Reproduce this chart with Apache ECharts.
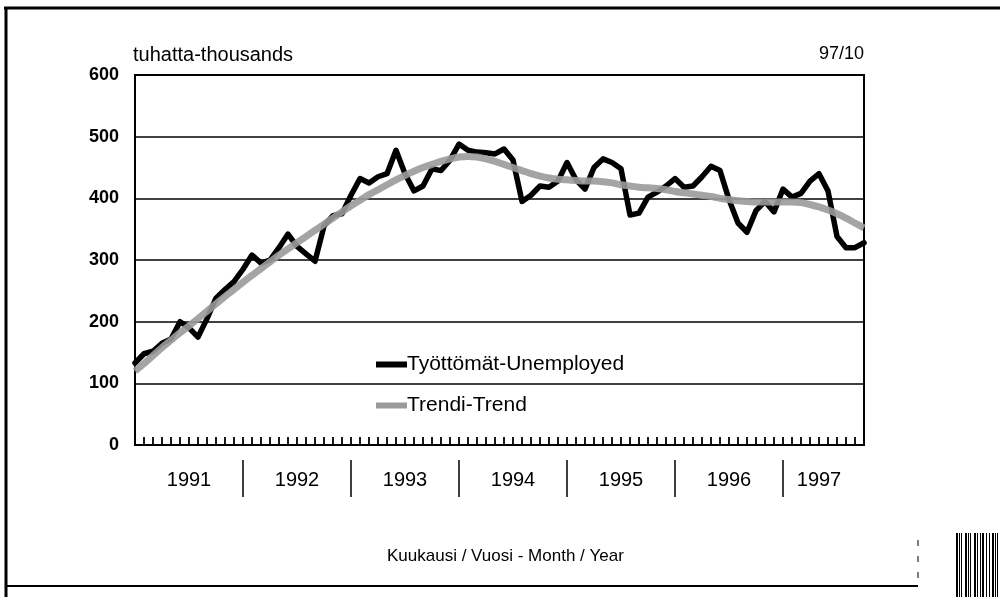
<!DOCTYPE html>
<html>
<head>
<meta charset="utf-8">
<script src="https://cdn.jsdelivr.net/npm/echarts@6/dist/echarts.min.js"></script>
<style>
html, body { margin: 0; padding: 0; background: #fff; }
#chart { width: 1000px; height: 597px; }
</style>
</head>
<body>
<div id="chart"></div>
<script>
// kuukaudet 1/1991 - 10/1997
var years = ['1991', '1992', '1993', '1994', '1995', '1996', '1997'];
var yearLabelIdx = [6, 18, 30, 42, 54, 66, 76];
var yTicks = [0, 100, 200, 300, 400, 500, 600];

var months = [];
for (var y = 1991; y <= 1997; y++) {
	for (var m = 1; m <= 12; m++) {
		if (y == 1997 && m > 10) break;
		months.push(y + '/' + m);
	}
}

// Työttömät-Unemployed (tuhatta)
var unemployed = [
	133, 148, 152, 165, 172, 200, 190, 175, 205, 238, 252, 265,
	285, 308, 295, 300, 320, 342, 322, 310, 298, 355, 372, 375,
	405, 432, 425, 435, 440, 478, 440, 412, 420, 448, 445, 462,
	488, 478, 475, 474, 472, 480, 462, 395, 405, 420, 418, 428,
	458, 430, 415, 450, 464, 458, 448, 373, 376, 402, 410, 420,
	432, 418, 420, 435, 452, 445, 398, 360, 345, 380, 395, 378,
	415, 402, 408, 428, 440, 412, 338, 320, 320, 328
];
// Trendi-Trend
var trend = [
	120, 132, 145, 158, 170, 182, 193, 205, 217, 229, 241, 252,
	264, 275, 286, 297, 308, 318, 328, 338, 348, 358, 368, 378,
	388, 397, 406, 414, 422, 430, 437, 444, 450, 455, 460, 464,
	467, 468, 467, 464, 460, 455, 450, 445, 440, 436, 433, 431,
	430, 429, 428, 428, 427, 425, 422, 420, 418, 417, 416, 414,
	411, 409, 407, 405, 403, 400, 398, 396, 395, 394, 394, 394,
	394, 394, 393, 390, 386, 381, 375, 368, 360, 352
];

var font = 'Liberation Sans, Arial, sans-serif';

// viivakoodin raidat oikeassa alakulmassa
var barcode = [];
var stripes = [0, 3, 5, 9, 12, 14, 18, 21, 24, 26, 30, 33, 36, 39, 41];
stripes.forEach(function(dx, k) {
	barcode.push({ type : 'rect', shape : { x : 956 + dx, y : 533, width : (k % 3 == 0 ? 2 : 1), height : 64 }, style : { fill : '#000' } });
});

var chart = echarts.init(document.getElementById('chart'));

var option = {
	backgroundColor : '#fff',
	animation : false,
	grid : {
		left : 135,
		right : 136,
		top : 75,
		bottom : 152,
		show : true,
		borderColor : '#000',
		borderWidth : 2
	},
	legend : {
		orient : 'vertical',
		left : 371,
		top : 349,
		itemGap : 20,
		itemWidth : 31,
		itemHeight : 6,
		textStyle : { fontFamily : font, fontSize : 21, color : '#000', padding : [0, 0, 0, -5] },
		data : [
			{ name : 'Työttömät-Unemployed', icon : 'rect', itemStyle : { color : '#000' } },
			{ name : 'Trendi-Trend', icon : 'rect', itemStyle : { color : '#9a9a9a' } }
		]
	},
	xAxis : [ {
		type : 'category',
		data : months,
		boundaryGap : false,
		axisLine : { lineStyle : { color : '#000', width : 2 } },
		axisTick : { show : true, inside : true, length : 8, interval : 0, lineStyle : { color : '#000', width : 1.8 } },
		axisLabel : { show : false }
	}, {
		// vuosirivi
		type : 'category',
		data : months,
		boundaryGap : false,
		position : 'bottom',
		offset : 15,
		axisLine : { show : false },
		axisTick : {
			show : true,
			length : 37,
			interval : function(i) { return i > 0 && i % 12 == 0; },
			lineStyle : { color : '#000', width : 1.5 }
		},
		axisLabel : {
			interval : function(i) { return yearLabelIdx.indexOf(i) >= 0; },
			formatter : function(v, i) { return years[yearLabelIdx.indexOf(i)]; },
			margin : 10,
			fontFamily : font,
			fontSize : 20,
			color : '#000'
		}
	} ],
	yAxis : {
		type : 'value',
		min : yTicks[0],
		max : yTicks[yTicks.length - 1],
		interval : 100,
		axisLine : { show : true, lineStyle : { color : '#000', width : 2 } },
		axisTick : { show : false },
		splitLine : { lineStyle : { color : '#000', width : 1.5 } },
		axisLabel : { margin : 16, fontFamily : font, fontSize : 18, fontWeight : 'bold', color : '#000' }
	},
	graphic : [
		{ type : 'text', left : 133, top : 45, style : { text : 'tuhatta-thousands', font : '20px ' + font, fill : '#000' } },
		{ type : 'text', right : 136, top : 45, style : { text : '97/10', font : '18px ' + font, fill : '#000' } },
		{ type : 'text', left : 387, top : 548, style : { text : 'Kuukausi / Vuosi - Month / Year', font : '17px ' + font, fill : '#000' } },
		// kehys
		{ type : 'line', shape : { x1 : 4, y1 : 8, x2 : 1000, y2 : 8 }, style : { stroke : '#000', lineWidth : 3 } },
		{ type : 'line', shape : { x1 : 6, y1 : 8, x2 : 6, y2 : 597 }, style : { stroke : '#000', lineWidth : 3 } },
		{ type : 'line', shape : { x1 : 6, y1 : 586, x2 : 918, y2 : 586 }, style : { stroke : '#000', lineWidth : 2 } },
		{ type : 'line', shape : { x1 : 918, y1 : 540, x2 : 918, y2 : 586 }, style : { stroke : '#000', lineWidth : 1, lineDash : [6, 10] } }
	].concat(barcode),
	series : [ {
		name : 'Työttömät-Unemployed',
		type : 'line',
		data : unemployed,
		symbol : 'none',
		z : 3,
		lineStyle : { color : '#000', width : 5.5, join : 'round', cap : 'round' },
		itemStyle : { color : '#000' }
	}, {
		name : 'Trendi-Trend',
		type : 'line',
		data : trend,
		symbol : 'none',
		smooth : 0.3,
		z : 4,
		lineStyle : { color : '#9a9a9a', width : 7, opacity : 0.9 },
		itemStyle : { color : '#9a9a9a' }
	} ]
};
chart.setOption(option);
</script>
</body>
</html>
